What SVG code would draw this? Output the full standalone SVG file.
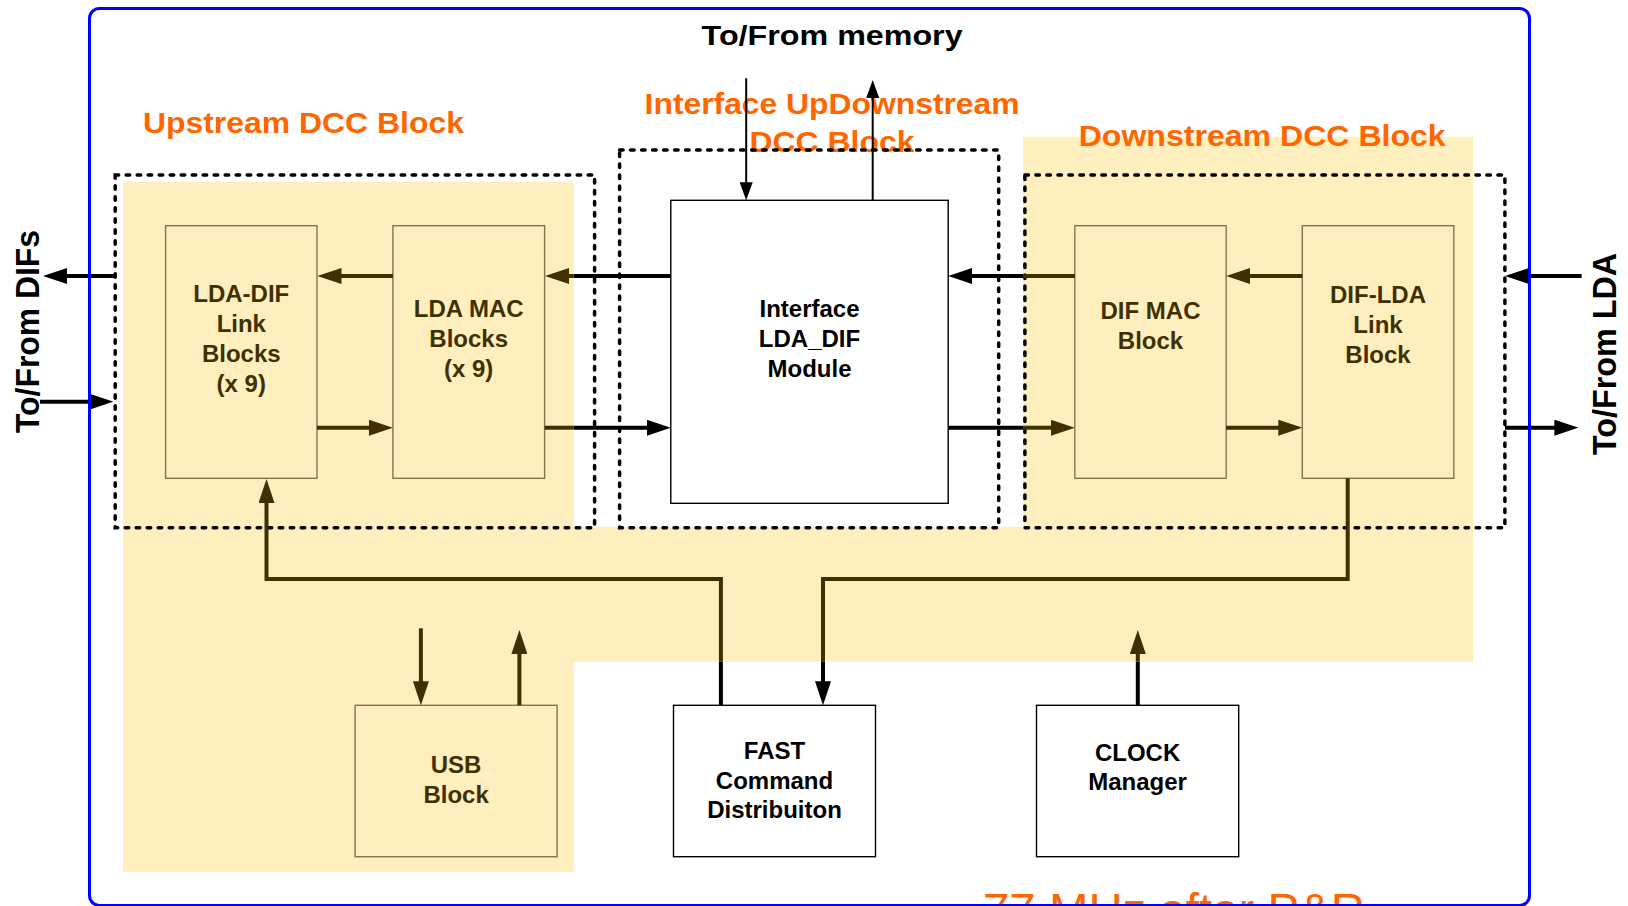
<svg xmlns="http://www.w3.org/2000/svg" width="1628" height="906" viewBox="0 0 1628 906">
<defs>
<style>
.bg{fill:#FFEEBE;stroke:none}
.dash{fill:none;stroke:#000;stroke-width:3.5;stroke-dasharray:3.5 7.5;stroke-linecap:round}
.yb{fill:#FFEEBE;stroke:#857448;stroke-width:1.4}
.wb{fill:#fff;stroke:#000;stroke-width:1.4}
.lbl{font-family:"Liberation Sans",Arial,sans-serif;font-weight:bold;fill:#FF6600}
.bt{font-family:"Liberation Sans",Arial,sans-serif;font-weight:bold;font-size:24px;text-anchor:middle}
.bt.y{fill:#3f3000}
.bt.w{fill:#000}
.side{font-family:"Liberation Sans",Arial,sans-serif;font-weight:bold;font-size:33px;text-anchor:middle;fill:#000}
.br{fill:none;stroke:#3f3000;stroke-width:4}
.bk{fill:none;stroke:#000;stroke-width:4}
.th{fill:none;stroke:#000;stroke-width:2}
</style>
<marker id="hb" viewBox="0 0 24 16" refX="1" refY="8" markerWidth="24" markerHeight="16" markerUnits="userSpaceOnUse" orient="auto"><path d="M0,0 L24,8 L0,16 Z" fill="#3f3000"/></marker>
<marker id="hk" viewBox="0 0 24 16" refX="1" refY="8" markerWidth="24" markerHeight="16" markerUnits="userSpaceOnUse" orient="auto"><path d="M0,0 L24,8 L0,16 Z" fill="#000"/></marker>
<marker id="tk" viewBox="0 0 18 13" refX="1" refY="6.5" markerWidth="18" markerHeight="13" markerUnits="userSpaceOnUse" orient="auto"><path d="M0,0 L18,6.5 L0,13 Z" fill="#000"/></marker>
</defs>
<rect width="1628" height="906" fill="#fff"/>
<path class="bg" d="M123,181.7 H573.7 V526.7 H1023 V136.7 H1473 V661.7 H573.7 V871.7 H123 Z"/>
<g id="labels">
<text class="lbl" x="142.9" y="133.3" font-size="30" textLength="321" lengthAdjust="spacingAndGlyphs">Upstream DCC Block</text>
<text class="lbl" x="644.6" y="113.5" font-size="29.5" textLength="375" lengthAdjust="spacingAndGlyphs">Interface UpDownstream</text>
<text class="lbl" x="749.5" y="152" font-size="29.5" textLength="165" lengthAdjust="spacingAndGlyphs">DCC Block</text>
<text class="lbl" x="1078.7" y="145.7" font-size="30" textLength="367" lengthAdjust="spacingAndGlyphs">Downstream DCC Block</text>
<text x="701.6" y="45" font-family="Liberation Sans,Arial,sans-serif" font-weight="bold" font-size="28" textLength="261" lengthAdjust="spacingAndGlyphs" fill="#000">To/From memory</text>
<text x="983" y="925.5" font-family="Liberation Sans,Arial,sans-serif" font-size="46" textLength="382" lengthAdjust="spacingAndGlyphs" fill="#FF6600">77 MHz after P&amp;R</text>
</g>
<g id="regions">
<rect id="upstream-dcc" class="dash" x="115.2" y="175" width="479.4" height="352.7"/>
<rect id="interface-dcc" class="dash" x="619.6" y="150" width="379.1" height="377.7"/>
<rect id="downstream-dcc" class="dash" x="1024.9" y="175" width="480" height="352.7"/>
</g>
<g id="lda-dif-link">
<rect class="yb" x="165.6" y="225.7" width="151.4" height="252.6"/>
<text class="bt y" x="241.3" y="301.7">LDA-DIF</text>
<text class="bt y" x="241.3" y="331.7">Link</text>
<text class="bt y" x="241.3" y="361.7">Blocks</text>
<text class="bt y" x="241.3" y="391.7">(x 9)</text>
</g>
<g id="lda-mac">
<rect class="yb" x="392.9" y="225.7" width="151.7" height="252.6"/>
<text class="bt y" x="468.7" y="316.7">LDA MAC</text>
<text class="bt y" x="468.7" y="346.7">Blocks</text>
<text class="bt y" x="468.7" y="376.7">(x 9)</text>
</g>
<g id="interface-module">
<rect class="wb" x="670.8" y="200.3" width="277.4" height="303"/>
<text class="bt w" x="809.5" y="316.7">Interface</text>
<text class="bt w" x="809.5" y="346.7">LDA_DIF</text>
<text class="bt w" x="809.5" y="376.7">Module</text>
</g>
<g id="dif-mac">
<rect class="yb" x="1074.8" y="225.7" width="151.4" height="252.6"/>
<text class="bt y" x="1150.5" y="318.5">DIF MAC</text>
<text class="bt y" x="1150.5" y="348.5">Block</text>
</g>
<g id="dif-lda-link">
<rect class="yb" x="1302.3" y="225.7" width="151.5" height="252.6"/>
<text class="bt y" x="1378" y="303.3">DIF-LDA</text>
<text class="bt y" x="1378" y="333.3">Link</text>
<text class="bt y" x="1378" y="363.3">Block</text>
</g>
<g id="usb">
<rect class="yb" x="355.1" y="705.3" width="202" height="151.4"/>
<text class="bt y" x="456.1" y="773.3">USB</text>
<text class="bt y" x="456.1" y="803.3">Block</text>
</g>
<g id="fast">
<rect class="wb" x="673.5" y="705.3" width="202" height="151.4"/>
<text class="bt w" x="774.5" y="759.3">FAST</text>
<text class="bt w" x="774.5" y="788.8">Command</text>
<text class="bt w" x="774.5" y="818.3">Distribuiton</text>
</g>
<g id="clock">
<rect class="wb" x="1036.5" y="705.3" width="202.2" height="151.4"/>
<text class="bt w" x="1137.6" y="760.5">CLOCK</text>
<text class="bt w" x="1137.6" y="790">Manager</text>
</g>
<g id="connectors">
<path class="bk" d="M115,276 H66" marker-end="url(#hk)"/>
<path class="bk" d="M40,401.7 H90.3" marker-end="url(#hk)"/>
<path class="br" d="M392.9,276 H340.5" marker-end="url(#hb)"/>
<path class="bk" d="M670.8,276 H573.7"/>
<path class="br" d="M573.7,276 H568" marker-end="url(#hb)"/>
<path class="br" d="M317,427.7 H369.9" marker-end="url(#hb)"/>
<path class="br" d="M544.6,427.7 H573.7"/>
<path class="bk" d="M573.7,427.7 H647.8" marker-end="url(#hk)"/>
<path class="br" d="M1074.8,276 H1023"/>
<path class="bk" d="M1023,276 H971.2" marker-end="url(#hk)"/>
<path class="br" d="M1302.3,276 H1249.2" marker-end="url(#hb)"/>
<path class="bk" d="M948.2,427.7 H1023"/>
<path class="br" d="M1023,427.7 H1051.8" marker-end="url(#hb)"/>
<path class="br" d="M1226.2,427.7 H1279.3" marker-end="url(#hb)"/>
<path class="bk" d="M1581.6,276 H1528" marker-end="url(#hk)"/>
<path class="bk" d="M1505,427.7 H1555.4" marker-end="url(#hk)"/>
<path class="th" d="M746.2,78.3 V183.3" marker-end="url(#tk)"/>
<path class="th" d="M872.7,200.3 V97" marker-end="url(#tk)"/>
<path class="br" d="M1347.7,478.3 V579 H823 V661.7"/>
<path class="bk" d="M823,661.7 V682.3" marker-end="url(#hk)"/>
<path class="bk" d="M720.9,705.3 V661.7"/>
<path class="br" d="M720.9,661.7 V579 H266.5 V502" marker-end="url(#hb)"/>
<path class="br" d="M420.9,628.3 V682.3" marker-end="url(#hb)"/>
<path class="br" d="M519.4,705.3 V653" marker-end="url(#hb)"/>
<path class="bk" d="M1137.8,705.3 V661.7"/>
<path class="br" d="M1137.8,661.7 V653" marker-end="url(#hb)"/>
</g>
<g id="side-labels">
<text class="side" transform="translate(39.3,331.5) rotate(-90)" textLength="203" lengthAdjust="spacingAndGlyphs">To/From DIFs</text>
<text class="side" transform="translate(1616,354) rotate(-90)" textLength="202" lengthAdjust="spacingAndGlyphs">To/From LDA</text>
</g>
<rect id="frame" x="89.5" y="8.5" width="1440" height="897" rx="10" ry="10" fill="none" stroke="#0000FF" stroke-width="3"/>
</svg>
